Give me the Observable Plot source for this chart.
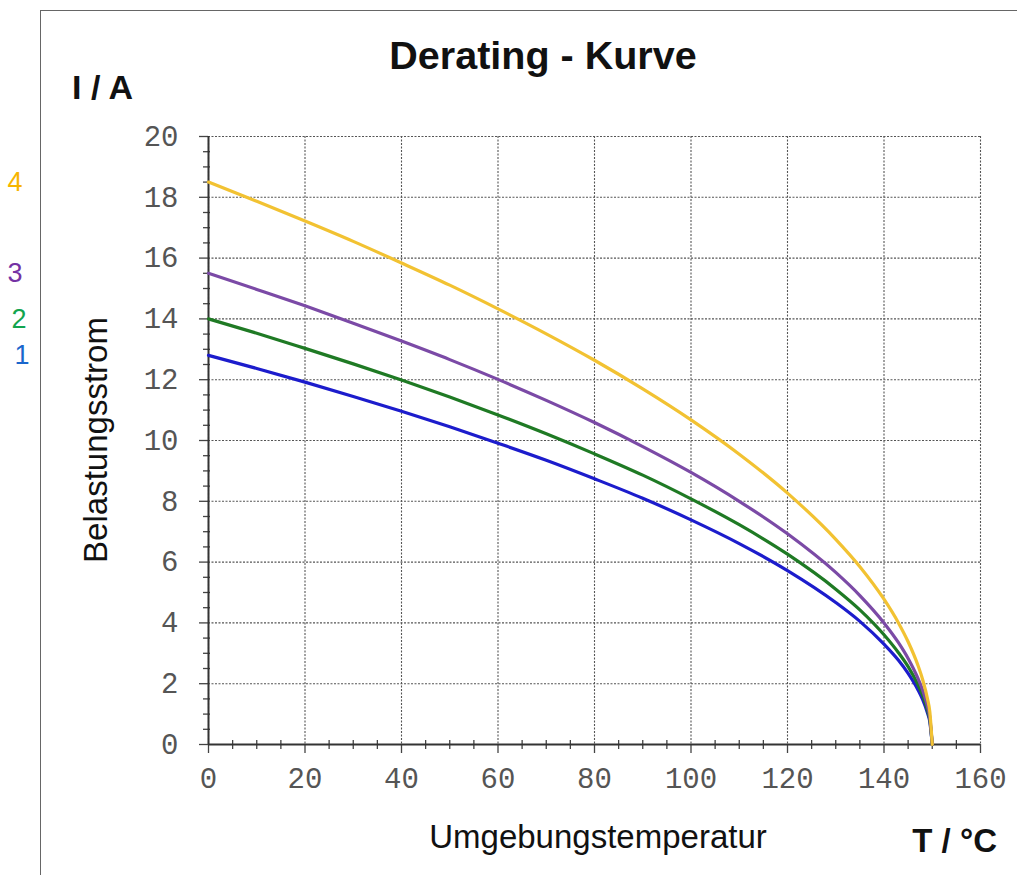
<!DOCTYPE html>
<html><head><meta charset="utf-8">
<script src="https://cdn.jsdelivr.net/npm/d3@7"></script>
<script src="https://cdn.jsdelivr.net/npm/@observablehq/plot@0.6"></script>
<style>
html,body{margin:0;padding:0;background:#fff;}
#wrap{position:relative;width:1017px;height:875px;overflow:hidden;}
#frame{position:absolute;left:40px;top:10px;right:-5px;bottom:-5px;border-left:1.5px solid #666;border-top:1.5px solid #666;}
#chart{position:absolute;left:0;top:0;}
</style></head><body>
<div id="wrap"><div id="frame"></div><div id="chart"></div></div>
<script>
const temps   = [0, 10, 20, 30, 40, 50, 60, 70, 80, 90, 100, 110, 120, 130, 135, 140, 143, 145, 147, 148, 149, 149.5, 150];
const curve1  = [12.80, 12.37, 11.92, 11.45, 10.96, 10.45, 9.91, 9.35, 8.74, 8.10, 7.39, 6.61, 5.72, 4.67, 4.05, 3.30, 2.77, 2.34, 1.81, 1.48, 1.04, 0.74, 0];
const curve2  = [14.00, 13.53, 13.03, 12.52, 11.99, 11.43, 10.84, 10.22, 9.56, 8.86, 8.08, 7.23, 6.26, 5.11, 4.43, 3.61, 3.02, 2.56, 1.98, 1.62, 1.14, 0.81, 0];
const curve3  = [15.50, 14.97, 14.43, 13.86, 13.27, 12.66, 12.01, 11.32, 10.59, 9.80, 8.95, 8.00, 6.93, 5.66, 4.90, 4.00, 3.35, 2.83, 2.19, 1.79, 1.26, 0.89, 0];
const curve4  = [18.50, 17.87, 17.22, 16.55, 15.84, 15.11, 14.33, 13.51, 12.64, 11.70, 10.68, 9.55, 8.27, 6.75, 5.85, 4.78, 4.00, 3.38, 2.62, 2.14, 1.51, 1.07, 0];
const seriesNames  = ["1", "2", "3", "4"];
const lineColors   = ["#1c1ccc", "#1f7a24", "#7b4aa6", "#f2c232"];
const labelColors  = ["#1a66cc", "#12a44e", "#7432a4", "#f7b500"];
const xTicks = [0, 20, 40, 60, 80, 100, 120, 140, 160];
const yTicks = [0, 2, 4, 6, 8, 10, 12, 14, 16, 18, 20];
const xMinor = d3.range(0, 160, 5).filter(d => d % 20 !== 0);
const yMinor = d3.range(0, 20, 0.5).filter(d => d % 2 !== 0);
const titleText = "Derating - Kurve";
const yUnit = "I / A";
const xUnit = "T / °C";
const xLabel = "Umgebungstemperatur";
const yLabel = "Belastungsstrom";

const curves = [curve1, curve2, curve3, curve4];
const seriesData = curves.map((c, k) => temps.map((t, i) => ({T: t, I: c[i], series: seriesNames[k]})));
const labelDx = [-194, -197, -201, -201];

const tickFont = "'Liberation Mono', 'DejaVu Sans Mono', monospace";
const gridStyle = {stroke: "#555", strokeWidth: 1.1, strokeDasharray: "2,1.5"};

const chart = Plot.plot({
  width: 1017, height: 875,
  marginLeft: 208, marginRight: 37, marginTop: 136, marginBottom: 131,
  x: {domain: [0, 160]},
  y: {domain: [0, 20]},
  style: {background: "transparent", overflow: "visible"},
  marks: [
    Plot.ruleX(xTicks, gridStyle),
    Plot.ruleY(yTicks, gridStyle),
    Plot.ruleX(xTicks, {y1: 0, y2: 0, insetTop: 0, insetBottom: -9, stroke: "#444", strokeWidth: 1.3}),
    Plot.ruleX(xMinor, {y1: 0, y2: 0, insetTop: -4, insetBottom: -5, stroke: "#444", strokeWidth: 1.3}),
    Plot.ruleY(yTicks, {x1: 0, x2: 0, insetLeft: -9, insetRight: 0, stroke: "#444", strokeWidth: 1.3}),
    Plot.ruleY(yMinor, {x1: 0, x2: 0, insetLeft: -5, insetRight: -2, stroke: "#444", strokeWidth: 1.3}),
    Plot.ruleX([0], {y1: 0, y2: 20, stroke: "#333", strokeWidth: 2}),
    Plot.ruleY([0], {x1: 0, x2: 160, stroke: "#333", strokeWidth: 2}),
    ...seriesData.map((d, k) => Plot.line(d, {x: "T", y: "I", stroke: lineColors[k], strokeWidth: 3.2, curve: "monotone-x"})),
    ...seriesData.map((d, k) => Plot.text([d[0]], {y: "I", text: "series", frameAnchor: "left", dx: labelDx[k], fill: labelColors[k], fontSize: 27, fontFamily: "'Liberation Sans', Arial, sans-serif"})),
    Plot.axisX({ticks: xTicks, tickSize: 0, tickPadding: 23, fontSize: 29, fontFamily: tickFont, fill: "#555", label: null, tickFormat: d => String(d)}),
    Plot.axisY({ticks: yTicks, tickSize: 0, tickPadding: 30, fontSize: 29, fontFamily: tickFont, fill: "#555", label: null, tickFormat: d => String(d)})
  ]
});
document.getElementById("chart").appendChild(chart);

const svg = d3.select(chart);
const sans = "'Liberation Sans', Arial, Helvetica, sans-serif";
svg.append("text").attr("x", 543).attr("y", 69).attr("text-anchor", "middle")
  .attr("font-family", sans).attr("font-weight", "bold").attr("font-size", 39.5).attr("fill", "#111").text(titleText);
svg.append("text").attr("x", 72).attr("y", 99).attr("text-anchor", "start")
  .attr("font-family", sans).attr("font-weight", "bold").attr("font-size", 34).attr("fill", "#111").text(yUnit);
svg.append("text").attr("x", 997).attr("y", 852).attr("text-anchor", "end")
  .attr("font-family", sans).attr("font-weight", "bold").attr("font-size", 33).attr("fill", "#111").text(xUnit);
svg.append("text").attr("x", 598).attr("y", 848).attr("text-anchor", "middle")
  .attr("font-family", sans).attr("font-size", 33).attr("fill", "#111").text(xLabel);
svg.append("text").attr("transform", "translate(107,440) rotate(-90)").attr("text-anchor", "middle")
  .attr("font-family", sans).attr("font-size", 33).attr("fill", "#111").text(yLabel);
</script>
</body></html>
